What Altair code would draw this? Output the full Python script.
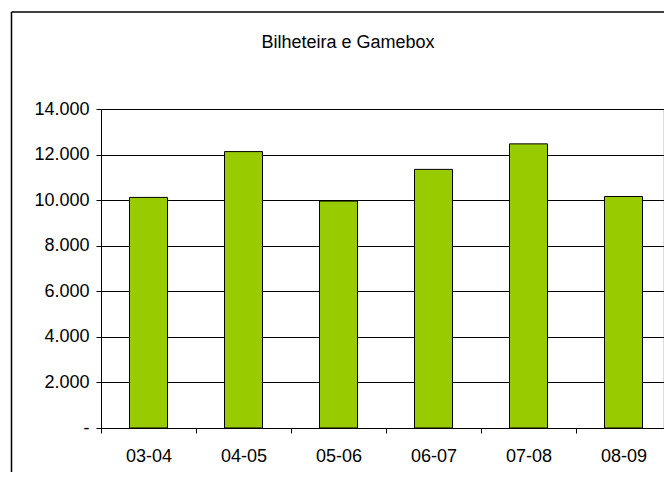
import altair as alt
import pandas as pd

seasons = ["03-04", "04-05", "05-06", "06-07", "07-08", "08-09"]
values = [10120, 12130, 9960, 11350, 12470, 10160]
y_ticks = [0, 2000, 4000, 6000, 8000, 10000, 12000, 14000]

df = pd.DataFrame({"season": seasons, "value": values})
frame_df = pd.DataFrame({"k": [0]})

FONT = "Liberation Sans"

bars = alt.Chart(df).mark_bar(
    color="#99CC00", stroke="black", strokeWidth=1,
    width=alt.RelativeBandSize(0.4)
).encode(
    x=alt.X("season:N", sort=seasons, title=None,
            scale=alt.Scale(paddingInner=0, paddingOuter=0, range=[0, 570]),
            axis=alt.Axis(labelAngle=0, tickBand="extent", tickSize=5,
                          tickColor="black", domainColor="black",
                          labelPadding=14, labelFontSize=18, labelFont=FONT,
                          labelColor="black", grid=False)),
    y=alt.Y("value:Q", title=None,
            scale=alt.Scale(domain=[0, 14000], nice=False),
            axis=alt.Axis(values=y_ticks, tickSize=5, tickColor="black",
                          domainColor="black", gridColor="black", gridOpacity=1,
                          labelPadding=7, labelFontSize=18, labelFont=FONT,
                          labelColor="black",
                          labelExpr="datum.value == 0 ? '-' : replace(format(datum.value, ','), ',', '.')")),
)

# outer chart border (left and top edges; right/bottom fall outside the picture)
border_left = alt.Chart(frame_df).mark_rule(color="black", strokeWidth=1.5).encode(
    x=alt.value(-89.5), y=alt.value(-97), y2=alt.value(420),
)
border_top = alt.Chart(frame_df).mark_rule(color="black", strokeWidth=1.5).encode(
    y=alt.value(-97), x=alt.value(-89.5), x2=alt.value(563),
)

chart = alt.layer(border_left, border_top, bars).properties(
    width=562, height=319,
    title=alt.TitleParams("Bilheteira e Gamebox", anchor="middle", frame="group",
                          dx=-34, dy=55, baseline="alphabetic", offset=0,
                          fontSize=18, font=FONT, fontWeight="normal",
                          color="black"),
    autosize=alt.AutoSizeParams(type="none"),
    padding={"left": 93, "top": 101, "right": 1, "bottom": 44},
).configure_view(strokeWidth=0).configure(background="white")

chart.save("out.html", embed_options={"renderer": "svg", "actions": False})
